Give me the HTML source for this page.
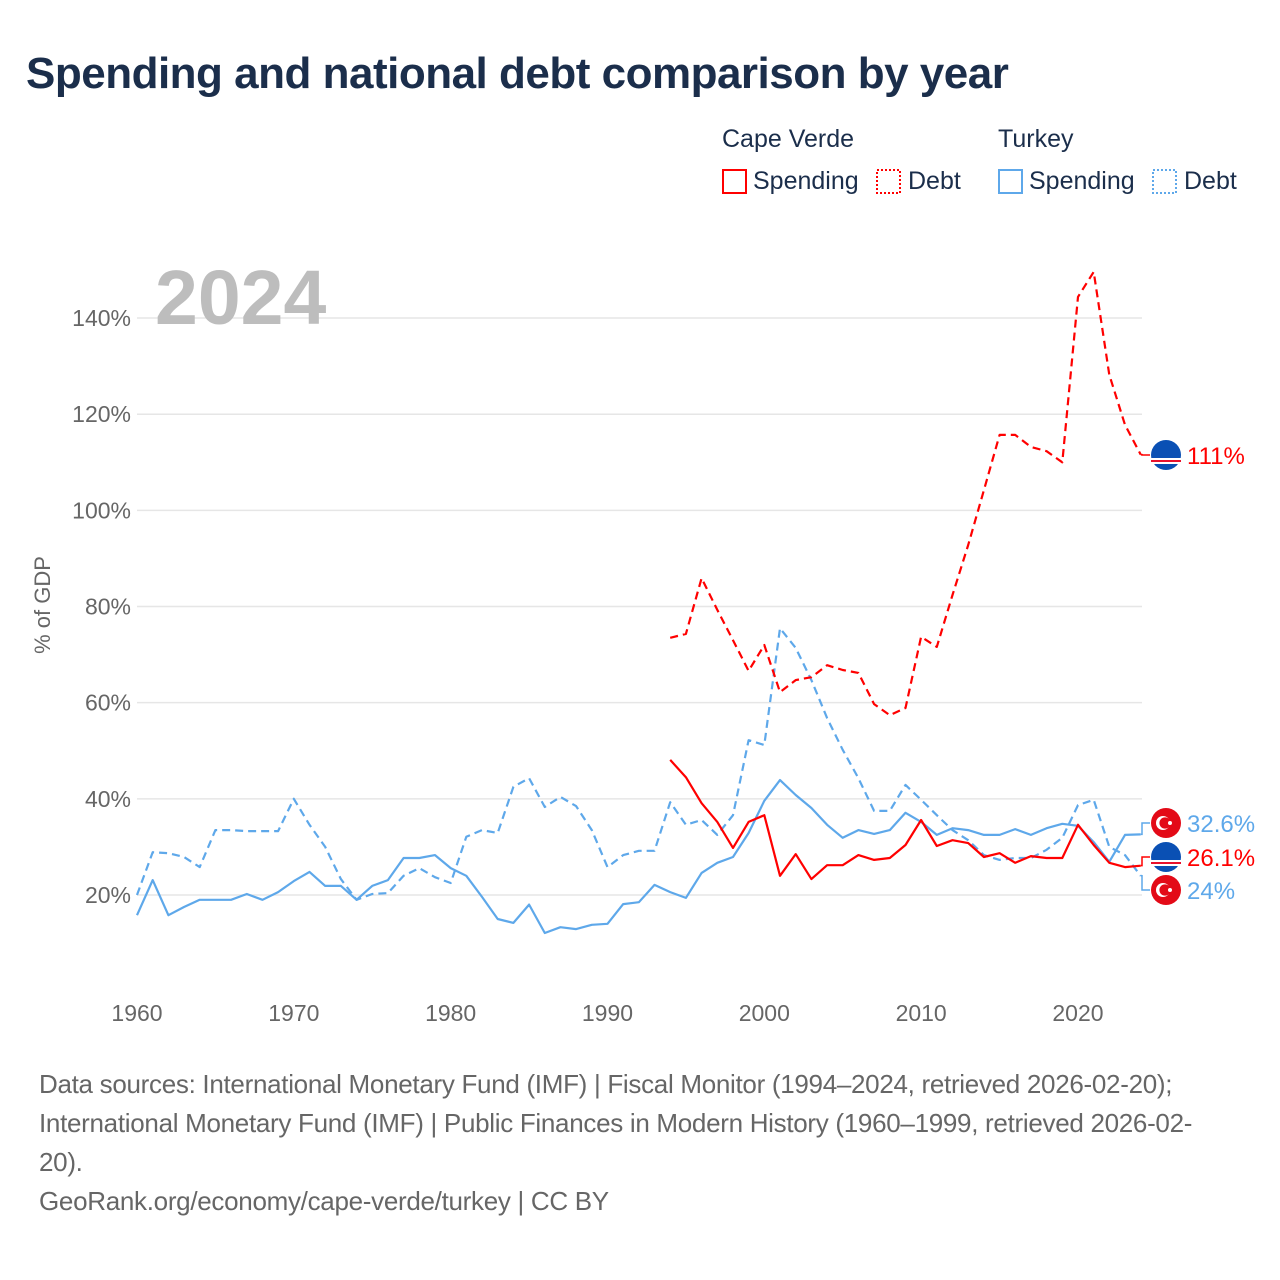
<!DOCTYPE html>
<html><head><meta charset="utf-8">
<style>
body{margin:0;background:#fff;width:1280px;height:1280px;overflow:hidden;font-family:"Liberation Sans",sans-serif;}
#title{position:absolute;left:26px;top:49px;font-size:44px;font-weight:bold;color:#1b2e4b;letter-spacing:-0.5px;}
.src{position:absolute;left:39px;font-size:26px;color:#666;line-height:39px;letter-spacing:-0.3px;}
</style></head><body>
<div id="title">Spending and national debt comparison by year</div>
<svg id="chart" width="1280" height="1280" style="position:absolute;left:0;top:0"></svg>
<div class="src" style="top:1065px">Data sources: International Monetary Fund (IMF) | Fiscal Monitor (1994–2024, retrieved 2026-02-20);<br>International Monetary Fund (IMF) | Public Finances in Modern History (1960–1999, retrieved 2026-02-<br>20).</div>
<div class="src" style="top:1182px">GeoRank.org/economy/cape-verde/turkey | CC BY</div>
<script>
const yTicks=[20,40,60,80,100,120,140];
const xTicks=[1960,1970,1980,1990,2000,2010,2020];
const trYears=[];for(let y=1960;y<=2024;y++)trYears.push(y);
const cvYears=[];for(let y=1994;y<=2024;y++)cvYears.push(y);
const trSpending=[15.8,23.1,15.8,17.5,19,19,19,20.2,19,20.6,22.9,24.8,21.9,21.9,19,21.9,23.1,27.7,27.7,28.3,25.6,24,19.6,15,14.2,18,12.1,13.3,12.9,13.8,14,18.1,18.5,22.1,20.6,19.4,24.6,26.7,27.9,32.9,39.6,43.9,40.8,38.1,34.6,31.9,33.5,32.7,33.5,37.1,35.2,32.5,33.9,33.5,32.5,32.5,33.7,32.5,33.9,34.8,34.4,31,26.9,32.5,32.6];
const trDebt=[20,28.9,28.7,27.9,25.8,33.5,33.5,33.3,33.3,33.3,40,34.6,30,23.3,19,20.2,20.4,24,25.6,23.7,22.5,32.1,33.5,32.9,42.5,44.3,38.3,40.4,38.5,33.5,25.8,28.3,29.2,29.2,39.3,34.6,35.6,32.5,36.6,52.2,51.2,75.5,71.4,64.7,56.8,50.2,44.3,37.5,37.5,42.9,39.8,36.6,33.5,31.4,28.3,27.3,27.7,27.7,29.4,31.9,38.7,39.8,30,28.3,24];
const cvSpending=[48.1,44.5,39.1,35.2,29.8,35.2,36.6,24,28.5,23.3,26.2,26.2,28.3,27.3,27.7,30.4,35.6,30.2,31.4,30.8,27.9,28.7,26.7,28.1,27.7,27.7,34.6,30.4,26.7,25.8,26.1];
const cvDebt=[73.5,74.3,85.9,79.3,73,66.6,72,62.2,64.7,65.3,67.8,66.8,66.2,59.7,57.4,58.9,73.7,71.6,82.4,92.8,104.2,115.7,115.7,113.2,112.3,110,144.4,149.6,128.2,117.8,111.6];
const labels=["111%","32.6%","26.1%","24%"];

const X=yr=>137+(yr-1960)*15.683;
const Y=v=>895-(v-20)*4.808;
const svg=document.getElementById('chart');
const NS='http://www.w3.org/2000/svg';
function mk(tag,attrs,parent){const e=document.createElementNS(NS,tag);for(const k in attrs)e.setAttribute(k,attrs[k]);(parent||svg).appendChild(e);return e;}
function txt(s,attrs){const t=mk('text',attrs);t.textContent=s;return t;}

yTicks.forEach(v=>{
 const g=mk('line',{x1:137,x2:1142,y1:Y(v),y2:Y(v),stroke:'#e6e6e6','stroke-width':1.5});
 
 
 const t=txt(v+'%',{x:131,y:Y(v)+8,'text-anchor':'end','font-size':23,fill:'#666'});
 
 
});
xTicks.forEach(v=>{
 const t=txt(String(v),{x:X(v),y:1021,'text-anchor':'middle','font-size':23,fill:'#666'});
 
 
});
const yt=txt('% of GDP',{x:0,y:0,transform:'translate(50,605) rotate(-90)','text-anchor':'middle','font-size':22,fill:'#666'});


const yr=txt('2024',{x:155,y:324,'font-size':77,'font-weight':'bold',fill:'#bdbdbd'});



function line(years,vals,color,dash,name){
 const d=vals.map((v,i)=>(i?'L':'M')+X(years[i]).toFixed(1)+','+Y(v).toFixed(1)).join(' ');
 const p=mk('path',{d:d,fill:'none',stroke:color,'stroke-width':2.2,'stroke-linejoin':'round'});
 if(dash)p.setAttribute('stroke-dasharray','8,5');
 
 
}
const BLUE='#5ea8ea',RED='#f00';
line(trYears,trDebt,BLUE,true,'turkey-debt-line');
line(trYears,trSpending,BLUE,false,'turkey-spending-line');
line(cvYears,cvDebt,RED,true,'cape-verde-debt-line');
line(cvYears,cvSpending,RED,false,'cape-verde-spending-line');

const ends=[
 {v:cvDebt[cvDebt.length-1],ly:455,c:RED,flag:'cv',n:'cape-verde-debt'},
 {v:trSpending[trSpending.length-1],ly:823,c:BLUE,flag:'tr',n:'turkey-spending'},
 {v:cvSpending[cvSpending.length-1],ly:857,c:RED,flag:'cv',n:'cape-verde-spending'},
 {v:trDebt[trDebt.length-1],ly:890,c:BLUE,flag:'tr',n:'turkey-debt'}];
ends.forEach((e,i)=>{
 const x0=X(2024),y0=Y(e.v);
 const c=mk('path',{d:`M${x0},${y0} L1142,${y0} L1142,${e.ly} L1150,${e.ly}`,fill:'none',stroke:e.c,'stroke-width':1.5});
 
 
 const g=mk('g',{});
 
 
 if(e.flag==='tr'){
  mk('circle',{cx:1166,cy:e.ly,r:15,fill:'#e30a17'},g);
  mk('circle',{cx:1163,cy:e.ly,r:7,fill:'#fff'},g);
  mk('circle',{cx:1165,cy:e.ly,r:5.6,fill:'#e30a17'},g);
  mk('circle',{cx:1170,cy:e.ly,r:2,fill:'#fff'},g);
 }else{
  mk('circle',{cx:1166,cy:e.ly,r:15,fill:'#0a50b4'},g);
  mk('rect',{x:1151,y:e.ly+3,width:30,height:2,fill:'#fff'},g);
  mk('rect',{x:1151,y:e.ly+5,width:30,height:2,fill:'#e8112d'},g);
  mk('rect',{x:1151,y:e.ly+7,width:30,height:2,fill:'#fff'},g);
 }
 const t=txt(labels[i],{x:1187,y:e.ly+9,'font-size':24,fill:e.c});
 
 
});

function leg(x,title,color){
 const t=txt(title,{x:x,y:147,'font-size':25,fill:'#1b2e4b'});
 
 
 const r1=mk('rect',{x:x+1,y:170,width:23,height:23,fill:'none',stroke:color,'stroke-width':2});
 
 
 const t1=txt('Spending',{x:x+31,y:189,'font-size':25,fill:'#1b2e4b'});
 
 
 const r2=mk('rect',{x:x+155,y:170,width:23,height:23,fill:'none',stroke:color,'stroke-width':2,'stroke-dasharray':'2,2'});
 
 
 const t2=txt('Debt',{x:x+186,y:189,'font-size':25,fill:'#1b2e4b'});
 
 
}
leg(722,'Cape Verde',RED);
leg(998,'Turkey',BLUE);
</script>
</body></html>
